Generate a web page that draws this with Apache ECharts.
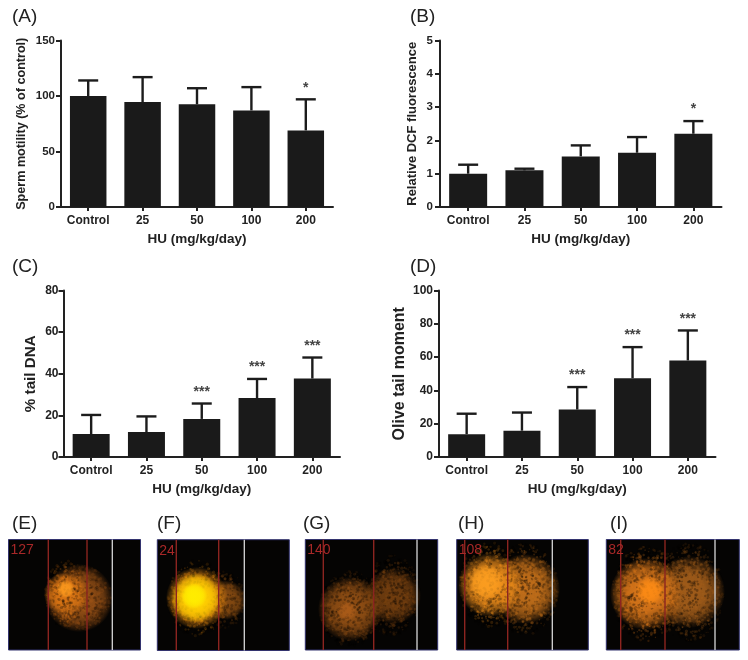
<!DOCTYPE html>
<html><head><meta charset="utf-8">
<style>html,body{margin:0;padding:0;background:#fff}#c{width:748px;height:660px}</style>
<script src="https://cdn.jsdelivr.net/npm/echarts@6/dist/echarts.min.js"></script>
</head><body><div id="c"></div>
<script>
const categories = ['Control','25','50','100','200'];
const xName = 'HU (mg/kg/day)';

const motilityMean = [100, 94.5, 92.5, 87, 69];
const motilityTop  = [114, 117, 107, 108, 97];
const motilityStars = ['', '', '', '', '*'];

const dcfMean = [1.0, 1.1, 1.52, 1.63, 2.2];
const dcfTop  = [1.27, 1.15, 1.85, 2.1, 2.58];
const dcfStars = ['', '', '', '', '*'];

const tailDnaMean = [11, 12, 18.3, 28.3, 37.7];
const tailDnaTop  = [20.2, 19.5, 25.7, 37.5, 47.8];
const tailDnaStars = ['', '', '***', '***', '***'];

const oliveMean = [13.7, 15.8, 28.5, 47.3, 58];
const oliveTop  = [26, 26.7, 42, 66, 76];
const oliveStars = ['', '', '***', '***', '***'];

const FONT = '"Liberation Sans", Arial, sans-serif';
const INK = '#222222';

const panels = [
  {label:'(A)', lx:12, ly:16, name:'Sperm motility (% of control)', nameSize:12.6, nameGap:33, tick:11.5, margin:6, mean:motilityMean, top:motilityTop, stars:motilityStars, max:150, interval:50, left:61, gridTop:40.5, w:272, h:166.5, bar:36.5, cap:20},
  {label:'(B)', lx:410, ly:16, name:'Relative DCF fluorescence', nameSize:13, nameGap:21, tick:11.5, margin:7, mean:dcfMean, top:dcfTop, stars:dcfStars, max:5, interval:1, left:440, gridTop:40.5, w:281.5, h:166.5, bar:38, cap:20},
  {label:'(C)', lx:12, ly:266, name:'% tail DNA', nameSize:15.2, nameGap:25, tick:12, margin:5, mean:tailDnaMean, top:tailDnaTop, stars:tailDnaStars, max:80, interval:20, left:63.5, gridTop:290.5, w:276.5, h:166.5, bar:37, cap:20},
  {label:'(D)', lx:410, ly:266, name:'Olive tail moment', nameSize:16, nameGap:31, tick:12, margin:6, mean:oliveMean, top:oliveTop, stars:oliveStars, max:100, interval:20, left:439, gridTop:290.5, w:276.5, h:166.5, bar:37, cap:20}
];

const comets = [
  {label:'(E)', lx:12, count:'127', x0:8.5, x1:140.5, y0:539.5, y1:650, red:[48.3,87], white:112.3, blobs:[
    [79,598,34,35,'#9a5216',0.95],[66,594,22,35,'#d87414',1],[65.5,589,9,17,'#ff9c1e',0.85]]},
  {label:'(F)', lx:157, count:'24', x0:157.3, x1:289.3, y0:539.7, y1:650.5, red:[176.3,218.7], white:244.3, blobs:[
    [226,600,20,30,'#8a4d12',0.95],[197,598,31,40,'#e88a10',1],[196,598,25,32,'#ffd000',1],[194,596,13,18,'#fff000',0.9]]},
  {label:'(G)', lx:303, count:'140', x0:305.3, x1:437.7, y0:539.5, y1:650, red:[323.3,373.7], white:417, blobs:[
    [393,596,28,43,'#7a4210',0.9],[350,609,32,40,'#8f4e14',1],[347,611,10,18,'#b4601a',0.7]]},
  {label:'(H)', lx:458, count:'108', x0:456.7, x1:588.3, y0:539.5, y1:650, red:[464.7,507.7], white:552.3, blobs:[
    [525,589,35,48,'#c06e1a',1],[490,585,32,45,'#e88a1a',1],[486,582,18,30,'#ffa020',0.85]]},
  {label:'(I)', lx:610, count:'82', x0:606.3, x1:739.3, y0:539.5, y1:650, red:[620.7,665], white:715, blobs:[
    [689,592,36,52,'#a05c1a',1],[646,594,36,50,'#d8761a',1],[650,591,14,24,'#ff8c14',0.9]]}
];

// photographic grain of the comet images: fixed pseudo-texture, not chart data
const grain = n => { const s=Math.sin(n*12.9898)*43758.5453; return s-Math.floor(s); };
function speckles(b,c,seed){
  const out=[], N=Math.round(b[2]*b[3]*0.5);
  for(let n=1;n<=N;n++){
    const k=seed*1000+n*3;
    const f=Math.sqrt(grain(k)), a=grain(k+1)*Math.PI*2, v=grain(k+2);
    const cx=b[0]+Math.cos(a)*f*b[2]*0.95, cy=b[1]+Math.sin(a)*f*b[3]*0.95;
    if(cx<c.x0+2||cx>c.x1-2||cy<c.y0+2||cy>c.y1-2) continue;
    const dark=v<0.55;
    out.push({type:'circle',silent:true,shape:{cx,cy,r:0.7+grain(k+5)*1.0},
      style:{fill:dark?'#000000':b[4],opacity:(dark?0.3:0.5)*(1-f*f*0.8)}});
  }
  return out;
}

const grids=[], xAxes=[], yAxes=[], series=[], graphics=[];
panels.forEach((p,i)=>{
  grids.push({left:p.left, top:p.gridTop, width:p.w, height:p.h});
  xAxes.push({type:'category', gridIndex:i, data:categories, name:xName, nameLocation:'middle', nameGap:25,
    nameTextStyle:{fontFamily:FONT,fontWeight:'bold',fontSize:13.5,color:INK},
    axisLine:{lineStyle:{color:INK,width:2}}, axisTick:{show:true,alignWithLabel:true,length:4,lineStyle:{color:INK,width:2}},
    axisLabel:{fontFamily:FONT,fontWeight:'bold',fontSize:12,color:INK,margin:8,interval:0}});
  yAxes.push({type:'value', gridIndex:i, min:0, max:p.max, interval:p.interval, name:p.name, nameLocation:'middle', nameGap:p.nameGap,
    nameTextStyle:{fontFamily:FONT,fontWeight:'bold',fontSize:p.nameSize,color:INK},
    splitLine:{show:false},
    axisLine:{show:true,lineStyle:{color:INK,width:2}}, axisTick:{show:true,length:5,lineStyle:{color:INK,width:2}},
    axisLabel:{fontFamily:FONT,fontWeight:'bold',fontSize:p.tick,color:INK,margin:p.margin}});
  series.push({type:'custom', xAxisIndex:i, yAxisIndex:i, z:1, silent:true,
    data:p.mean.map((m,k)=>[k,m,p.top[k]]),
    encode:{x:0,y:[1,2]},
    renderItem:(params,api)=>{
      const a=api.coord([api.value(0),api.value(1)]), b=api.coord([api.value(0),api.value(2)]);
      return {type:'group',children:[
        {type:'line',shape:{x1:a[0],y1:a[1],x2:b[0],y2:b[1]},style:{stroke:'#1c1c1c',lineWidth:2.4}},
        {type:'line',shape:{x1:b[0]-p.cap/2,y1:b[1],x2:b[0]+p.cap/2,y2:b[1]},style:{stroke:'#1c1c1c',lineWidth:2.4}}
      ]};
    }});
  series.push({type:'bar', xAxisIndex:i, yAxisIndex:i, z:2, silent:true, data:p.mean, barWidth:p.bar,
    itemStyle:{color:'#1a1a1a'}, animation:false});
  series.push({type:'custom', xAxisIndex:i, yAxisIndex:i, z:3, silent:true,
    data:p.top.map((t,k)=>[k,t]),
    renderItem:(params,api)=>{
      const s=p.stars[params.dataIndex]; if(!s) return null;
      const b=api.coord([api.value(0),api.value(1)]);
      return {type:'text',style:{text:s,x:b[0],y:b[1]-11.5,align:'center',verticalAlign:'middle',font:'bold 14px '+FONT,fill:'#444'}};
    }});
  graphics.push({type:'text',left:p.lx,top:p.ly-9,style:{text:p.label,font:'19px '+FONT,fill:INK}});
});

comets.forEach((c,ci)=>{
  const w=c.x1-c.x0,h=c.y1-c.y0;
  graphics.push({type:'text',left:c.lx,top:514,style:{text:c.label,font:'19px '+FONT,fill:INK}});
  graphics.push({type:'rect',shape:{x:c.x0,y:c.y0,width:w,height:h},style:{fill:'#050403',stroke:'#33336e',lineWidth:1}});
  c.blobs.forEach((b,bi)=>{
    graphics.push({type:'ellipse',shape:{cx:b[0],cy:b[1],rx:b[2],ry:b[3]},style:{opacity:b[5],
      fill:{type:'radial',x:0.5,y:0.5,r:0.5,colorStops:[
        {offset:0,color:b[4]},{offset:0.45,color:b[4]+'f0'},{offset:0.72,color:b[4]+'b0'},{offset:0.88,color:b[4]+'50'},{offset:1,color:b[4]+'00'}]}}});
    if(bi<2) graphics.push(...speckles(b,c,ci*5+bi+1));
  });
  c.red.forEach(x=>graphics.push({type:'line',shape:{x1:x,y1:c.y0,x2:x,y2:c.y1},style:{stroke:'#8c2420',lineWidth:1.4}}));
  graphics.push({type:'line',shape:{x1:c.white,y1:c.y0,x2:c.white,y2:c.y1},style:{stroke:'#d8d8d8',lineWidth:1.3}});
  graphics.push({type:'text',left:c.x0+2,top:c.y0+4,style:{text:c.count,font:'14px "Liberation Sans Narrow", "Liberation Sans", sans-serif',fill:'#a82828'}});
});

const chart=echarts.init(document.getElementById('c'),null,{renderer:'canvas'});
chart.setOption({animation:false,backgroundColor:'#fff',grid:grids,xAxis:xAxes,yAxis:yAxes,series:series,graphic:graphics});
</script></body></html>
